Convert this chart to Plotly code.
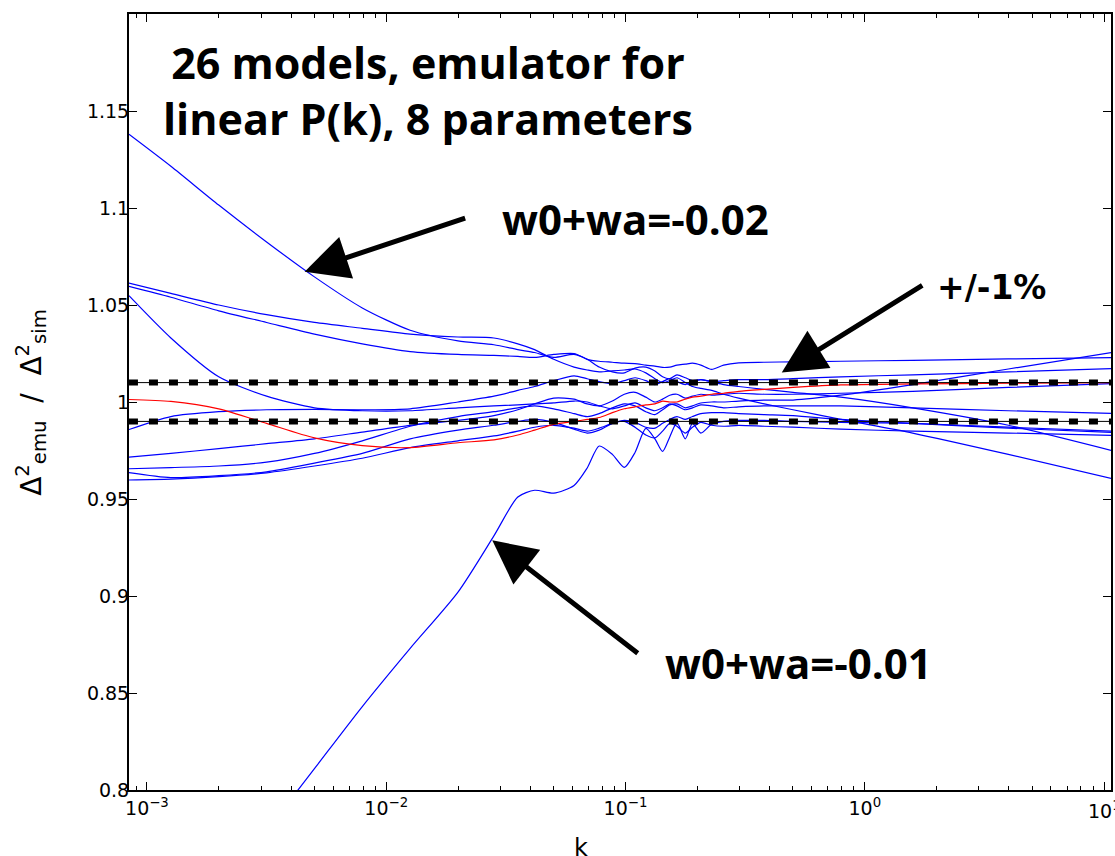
import plotly.graph_objects as go

# wavenumber grid k (h/Mpc) shared by all model curves
k = [0.000841, 0.001259, 0.001995, 0.003162, 0.005012, 0.007943, 0.01259, 0.01995,
     0.02818, 0.03548, 0.04169, 0.05012, 0.06095, 0.06918, 0.07762, 0.0881, 0.09886,
     0.1096, 0.1216, 0.1327, 0.1429, 0.1531, 0.1641, 0.1778, 0.1905, 0.2065, 0.2291,
     0.2570, 0.2972, 0.3802, 0.5012, 0.7943, 1.585, 3.981, 10.72]

# emulator / simulation ratio for each test model
model_a = [1.138, 1.1215, 1.1015, 1.0825, 1.0645, 1.0485, 1.037, 1.0315, 1.0295, 1.027, 1.0255, 1.023,
           1.0245, 1.022, 1.018, 1.0155, 1.015, 1.0175, 1.018, 1.016, 1.013, 1.012, 1.014, 1.0125,
           1.011, 1.0115, 1.0105, 1.009, 1.008, 1.0065, 1.005, 1.0025, 0.997, 0.988, 0.975]
model_b = [1.0613, 1.056, 1.050, 1.045, 1.041, 1.038, 1.035, 1.0335, 1.033, 1.030, 1.027, 1.022,
           1.018, 1.0165, 1.0155, 1.016, 1.0165, 1.017, 1.015, 1.012, 1.010, 1.011, 1.0125, 1.010,
           1.008, 1.007, 1.006, 1.004, 1.002, 0.999, 0.996, 0.991, 0.984, 0.973, 0.9606]
model_c = [1.0596, 1.054, 1.047, 1.041, 1.035, 1.030, 1.026, 1.0245, 1.024, 1.0235, 1.023, 1.0245,
           1.025, 1.022, 1.021, 1.0205, 1.020, 1.0198, 1.019, 1.0185, 1.0178, 1.018, 1.019, 1.0195,
           1.020, 1.019, 1.0168, 1.019, 1.0202, 1.0205, 1.0207, 1.021, 1.0215, 1.0222, 1.0229]
model_d = [1.0548, 1.033, 1.013, 1.003, 0.997, 0.9955, 0.9955, 0.997, 0.998, 0.9985, 0.999, 0.9995,
           1.0005, 1.000, 0.998, 0.9965, 0.998, 0.9995, 0.997, 0.9955, 0.997, 0.999, 0.998, 0.996,
           0.997, 0.9985, 0.998, 0.997, 0.9975, 0.998, 0.998, 0.998, 0.997, 0.9955, 0.9941]
model_e = [0.9858, 0.9925, 0.995, 0.996, 0.9962, 0.996, 0.9965, 1.000, 1.003, 1.006, 1.008, 1.011,
           1.0135, 1.012, 1.0105, 1.0095, 1.011, 1.0125, 1.011, 1.009, 1.0105, 1.012, 1.0105, 1.009,
           1.0105, 1.0115, 1.0105, 1.011, 1.0115, 1.0115, 1.012, 1.013, 1.014, 1.0155, 1.0172]
model_f = [0.9716, 0.9735, 0.976, 0.9785, 0.981, 0.9845, 0.988, 0.9905, 0.993, 0.996, 0.999, 1.002,
           1.0015, 0.999, 0.998, 1.0005, 1.004, 1.005, 1.0025, 1.000, 1.0015, 1.0035, 1.004, 1.002,
           1.003, 1.004, 1.0035, 1.004, 1.0045, 1.004, 1.004, 1.0045, 1.0055, 1.0075, 1.0095]
model_g = [0.9656, 0.9662, 0.967, 0.969, 0.9735, 0.980, 0.9875, 0.9925, 0.995, 0.997, 0.998, 0.9965,
           0.994, 0.9925, 0.994, 0.997, 0.999, 0.998, 0.995, 0.9935, 0.996, 0.9985, 0.999, 0.997,
           0.998, 0.9995, 1.000, 1.000, 1.0005, 1.001, 1.001, 1.0035, 1.009, 1.017, 1.0255]
model_h = [0.9636, 0.961, 0.962, 0.964, 0.9685, 0.9735, 0.981, 0.9855, 0.988, 0.990, 0.991, 0.9895,
           0.986, 0.984, 0.9855, 0.989, 0.990, 0.987, 0.983, 0.9815, 0.985, 0.989, 0.9875, 0.984,
           0.987, 0.9895, 0.988, 0.9875, 0.988, 0.9875, 0.987, 0.986, 0.985, 0.984, 0.9828]
model_i = [0.9598, 0.9602, 0.9615, 0.9635, 0.967, 0.971, 0.9765, 0.980, 0.9825, 0.985, 0.987, 0.988,
           0.9865, 0.985, 0.9865, 0.989, 0.9905, 0.9895, 0.987, 0.9865, 0.989, 0.991, 0.9925, 0.991,
           0.9925, 0.994, 0.9945, 0.9945, 0.994, 0.9935, 0.993, 0.991, 0.989, 0.9865, 0.9843]
model_j = [None, None, None, 0.779, 0.811, 0.843, 0.873, 0.902, 0.931, 0.951, 0.9545, 0.953,
           0.957, 0.966, 0.9773, 0.973, 0.9663, 0.974, 0.9864, 0.981, 0.9745, 0.982, 0.9894, 0.981,
           0.989, 0.984, 0.9885, 0.990, 0.9905, 0.9905, 0.990, 0.9895, 0.989, 0.987, 0.985]
model_red = [1.0013, 1.0003, 0.9965, 0.989, 0.9815, 0.9775, 0.9765, 0.979, 0.9805, 0.983, 0.9855,
             0.9885, 0.990, 0.991, 0.992, 0.9945, 0.9965, 0.9975, 0.9985, 0.999, 1.0004, 1.000,
             1.000, 1.0015, 1.0025, 1.003, 1.004, 1.0045, 1.0055, 1.0065, 1.0075, 1.0088, 1.0093,
             1.0097, 1.0100]

blue_models = [model_a, model_b, model_c, model_d, model_e, model_f, model_g, model_h, model_i, model_j]

# +/-1% band
band_k = [0.000841, 10.72]
band_upper = [1.01, 1.01]
band_lower = [0.99, 0.99]

y_ticks = [0.8, 0.85, 0.9, 0.95, 1.0, 1.05, 1.1, 1.15]
y_tick_text = ["0.8", "0.85", "0.9", "0.95", "1", "1.05", "1.1", "1.15"]
x_ticks = [0.001, 0.01, 0.1, 1, 10]
x_tick_text = ["10<sup>\u22123</sup>", "10<sup>\u22122</sup>", "10<sup>\u22121</sup>",
               "10<sup>0</sup>", "10<sup>1</sup>"]
x_minor = [m * 10.0 ** d for d in range(-4, 2) for m in range(2, 10)]

fig = go.Figure()

for vals in blue_models:
    fig.add_trace(go.Scatter(x=k, y=vals, mode="lines",
                             line=dict(color="#0000ff", width=1.2, shape="spline", smoothing=0.7),
                             showlegend=False, hoverinfo="skip"))

fig.add_trace(go.Scatter(x=k, y=model_red, mode="lines",
                         line=dict(color="#ff0000", width=1.2, shape="spline", smoothing=0.7),
                         showlegend=False, hoverinfo="skip"))

for band in (band_upper, band_lower):
    fig.add_trace(go.Scatter(x=band_k, y=band, mode="lines",
                             line=dict(color="black", width=1),
                             showlegend=False, hoverinfo="skip"))
    fig.add_trace(go.Scatter(x=band_k, y=band, mode="lines",
                             line=dict(color="black", width=6, dash="9px,11px"),
                             showlegend=False, hoverinfo="skip"))

axis_family = "DejaVu Sans, sans-serif"
tick_font = dict(family=axis_family, size=19, color="black")

fig.update_layout(
    xaxis=dict(type="log", range=[-3.075, 1.029],
               tickvals=x_ticks, ticktext=x_tick_text,
               ticks="inside", ticklen=8, tickwidth=1, tickcolor="black",
               minor=dict(tickvals=x_minor, ticks="inside", ticklen=4, tickcolor="black"),
               showline=True, linecolor="black", linewidth=2, mirror="allticks",
               showgrid=False, zeroline=False, tickfont=tick_font),
    yaxis=dict(range=[0.8, 1.2], tickvals=y_ticks, ticktext=y_tick_text,
               ticks="inside", ticklen=8, tickwidth=1, tickcolor="black",
               showline=True, linecolor="black", linewidth=2, mirror="allticks",
               showgrid=False, zeroline=False, tickfont=tick_font, ticklabelstandoff=-6),
)

# axis titles placed in the margins
fig.add_annotation(xref="paper", yref="paper", x=-0.1, y=0.5, xanchor="center", yanchor="middle",
                   textangle=-90, showarrow=False,
                   text="\u0394<sup>2</sup><sub>emu</sub>  /  \u0394<sup>2</sup><sub>sim</sub>",
                   font=dict(family=axis_family, size=28, color="black"))
fig.add_annotation(xref="paper", yref="paper", x=0.46, y=0, xanchor="center", yanchor="top",
                   yshift=-42, showarrow=False, text="k",
                   font=dict(family=axis_family, size=24, color="black"))

# the last decade label runs off the right edge of the page
fig.add_annotation(xref="x", yref="paper", x=1, y=0, yanchor="top", xanchor="center",
                   yshift=-6, text="10<sup>1</sup>", showarrow=False, font=tick_font)

label_font = dict(family="Open Sans, sans-serif", size=43, color="black")

fig.add_annotation(xref="paper", yref="paper", x=0.304, y=0.902,
                   xanchor="center", yanchor="middle",
                   text="<b>26 models, emulator for<br>linear P(k), 8 parameters</b>",
                   showarrow=False, font=label_font, align="center")

fig.add_annotation(xref="paper", yref="paper", x=0.516, y=0.737,
                   xanchor="center", yanchor="middle",
                   text="<b>w0+wa=-0.02</b>", showarrow=False,
                   font=dict(family="Open Sans, sans-serif", size=42, color="black"))
fig.add_annotation(xref="paper", yref="paper", x=0.682, y=0.164,
                   xanchor="center", yanchor="middle",
                   text="<b>w0+wa=-0.01</b>", showarrow=False,
                   font=dict(family="Open Sans, sans-serif", size=42, color="black"))
fig.add_annotation(xref="paper", yref="paper", x=0.878, y=0.647,
                   xanchor="center", yanchor="middle",
                   text="<b>+/-1%</b>", showarrow=False,
                   font=dict(family="DejaVu Sans, sans-serif", size=33, color="black"))

# arrows pointing at the labelled curves and the band
for head_x, head_y, ax, ay in [(-2.341, 1.0672, 162, -54),
                               (-0.347, 1.0152, 142, -88),
                               (-1.557, 0.9287, 147, 114)]:
    fig.add_annotation(x=head_x, y=head_y, xref="x", yref="y", text="",
                       showarrow=True, ax=ax, ay=ay, arrowhead=2, arrowsize=1.75,
                       arrowwidth=5, arrowcolor="black", standoff=0)

fig.update_layout(width=1115, height=856,
                  margin=dict(l=129, r=2, t=14, b=66),
                  paper_bgcolor="white", plot_bgcolor="white")

fig.write_html("out.html")
